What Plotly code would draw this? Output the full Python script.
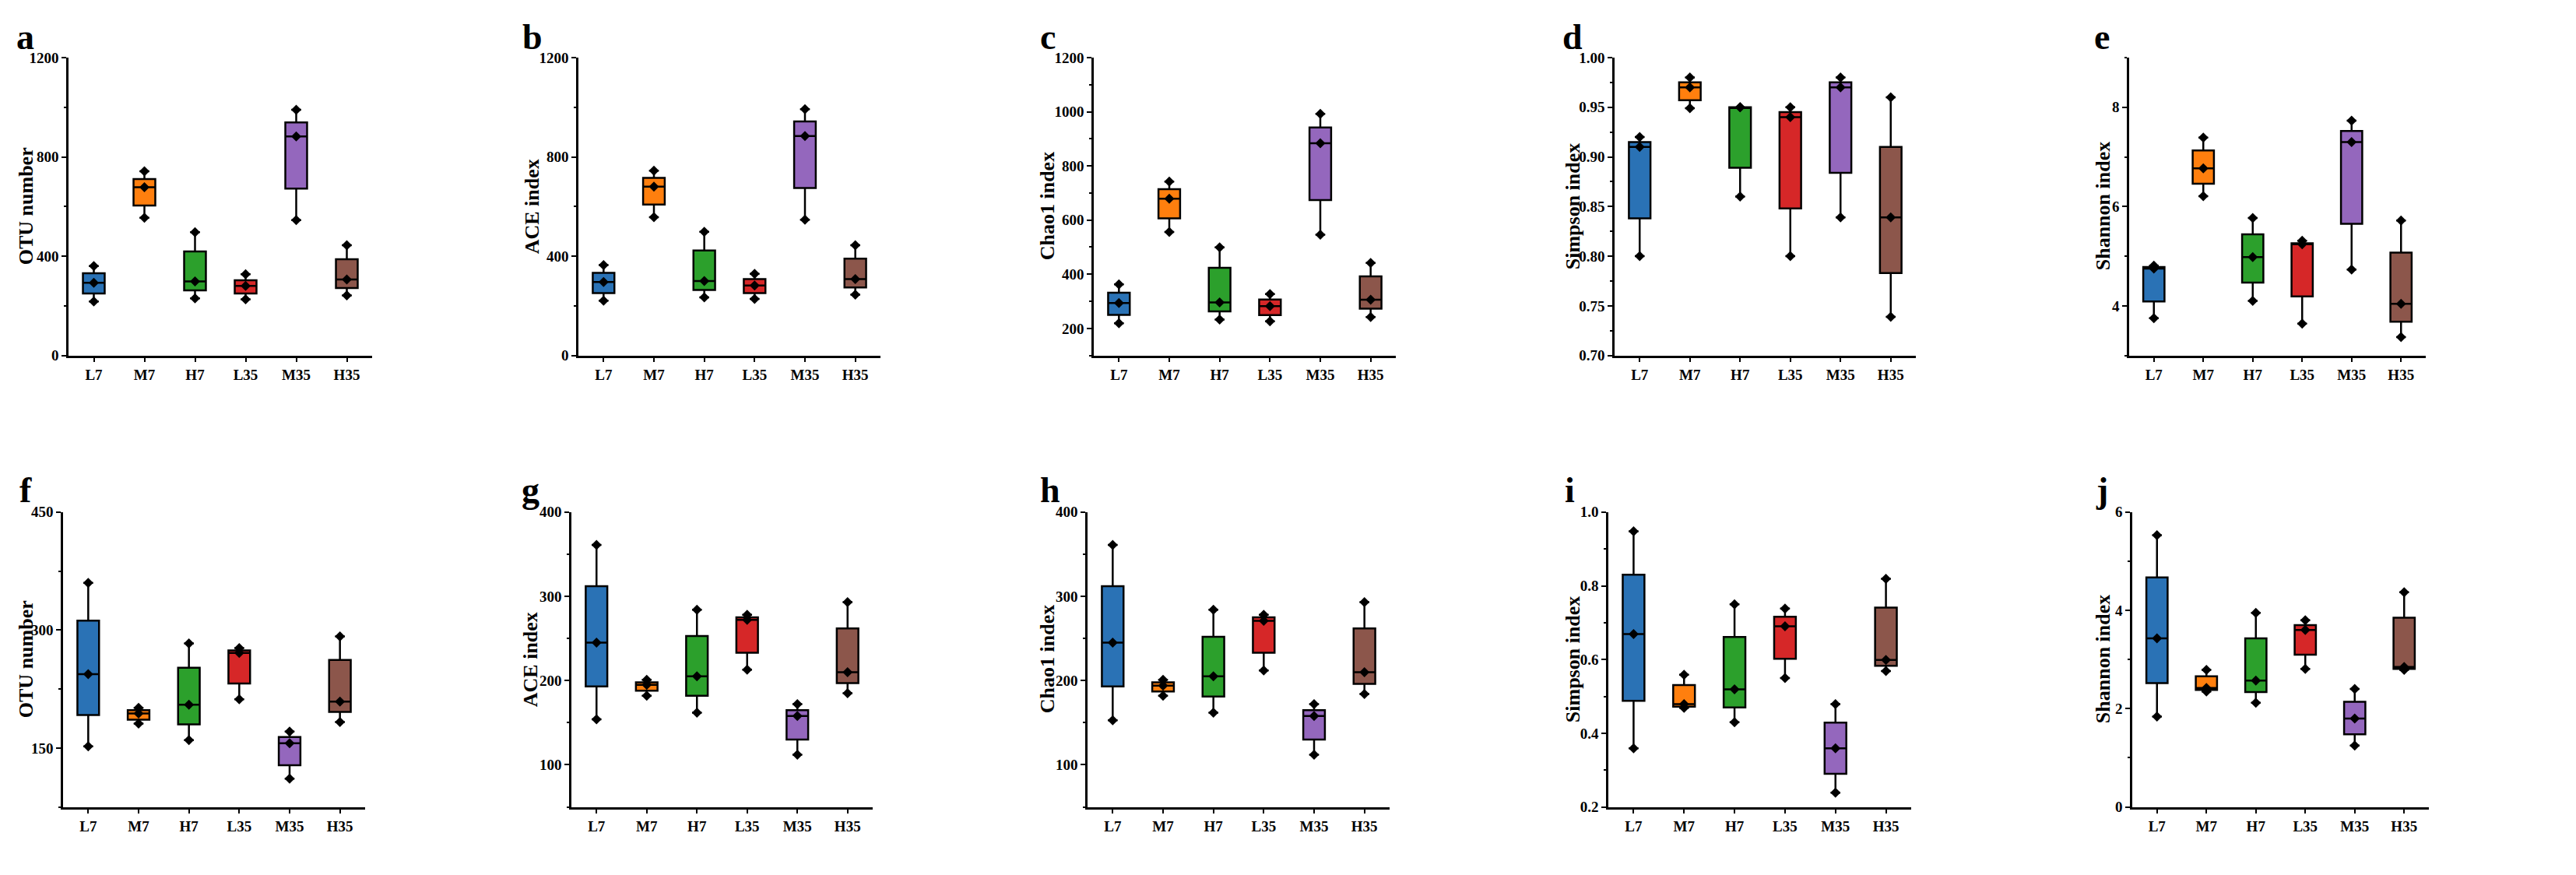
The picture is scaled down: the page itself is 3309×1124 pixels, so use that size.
import plotly.graph_objects as go

W, H = 3309, 1124

GROUPS = ["L7", "M7", "H7", "L35", "M35", "H35"]
COLORS = ["#2a72b5", "#ff7f0e", "#2ca02c", "#d62728", "#9467bd", "#8c564b"]

# ---- data: per panel, min / Q1 / median / Q3 / max for each group ----
A_MIN = [218, 555, 230, 226, 545, 242]
A_Q1  = [250, 604, 262, 250, 672, 272]
A_MED = [293, 678, 298, 280, 882, 306]
A_Q3  = [331, 711, 419, 303, 939, 388]
A_MAX = [360, 742, 497, 327, 990, 444]

B_MIN = [221, 557, 234, 228, 547, 245]
B_Q1  = [251, 608, 264, 251, 675, 274]
B_MED = [296, 680, 300, 282, 884, 308]
B_Q3  = [333, 715, 423, 308, 943, 390]
B_MAX = [364, 744, 498, 329, 992, 444]

C_MIN = [219, 556, 233, 226, 546, 242]
C_Q1  = [250, 606, 263, 249, 674, 273]
C_MED = [294, 679, 296, 282, 884, 306]
C_Q3  = [332, 714, 424, 307, 942, 392]
C_MAX = [363, 742, 499, 327, 992, 442]

D_MIN = [0.800, 0.949, 0.860, 0.800, 0.839, 0.739]
D_Q1  = [0.838, 0.957, 0.889, 0.848, 0.884, 0.783]
D_MED = [0.910, 0.970, 0.950, 0.940, 0.970, 0.839]
D_Q3  = [0.915, 0.975, 0.950, 0.945, 0.975, 0.910]
D_MAX = [0.920, 0.980, 0.950, 0.950, 0.980, 0.960]

E_MIN = [3.75, 6.21, 4.10, 3.64, 4.73, 3.37]
E_Q1  = [4.09, 6.46, 4.47, 4.19, 5.65, 3.68]
E_MED = [4.75, 6.77, 4.98, 5.24, 7.30, 4.04]
E_Q3  = [4.78, 7.13, 5.44, 5.26, 7.52, 5.07]
E_MAX = [4.81, 7.39, 5.77, 5.31, 7.73, 5.72]

F_MIN = [152, 181, 160, 212, 111, 183]
F_Q1  = [192, 186, 180, 232, 128, 196]
F_MED = [244, 194, 205, 271, 156, 209]
F_Q3  = [312, 198, 252, 274, 164, 262]
F_MAX = [360, 201, 283, 277, 171, 292]

G_MIN = [154, 182, 162, 213, 112, 185]
G_Q1  = [193, 188, 182, 233, 130, 197]
G_MED = [245, 195, 205, 272, 158, 210]
G_Q3  = [312, 198, 253, 275, 165, 262]
G_MAX = [361, 201, 284, 278, 172, 293]

H_MIN = [153, 182, 162, 212, 112, 184]
H_Q1  = [193, 187, 181, 233, 130, 196]
H_MED = [245, 194, 205, 271, 158, 210]
H_Q3  = [312, 198, 252, 275, 165, 262]
H_MAX = [361, 201, 284, 278, 172, 293]

I_MIN = [0.359, 0.469, 0.430, 0.550, 0.239, 0.569]
I_Q1  = [0.488, 0.472, 0.470, 0.602, 0.290, 0.583]
I_MED = [0.669, 0.479, 0.519, 0.690, 0.359, 0.599]
I_Q3  = [0.830, 0.531, 0.661, 0.716, 0.429, 0.741]
I_MAX = [0.948, 0.559, 0.750, 0.738, 0.479, 0.819]

J_MIN = [1.84, 2.35, 2.12, 2.81, 1.25, 2.79]
J_Q1  = [2.52, 2.38, 2.34, 3.10, 1.48, 2.81]
J_MED = [3.43, 2.42, 2.57, 3.60, 1.80, 2.85]
J_Q3  = [4.67, 2.66, 3.43, 3.70, 2.14, 3.85]
J_MAX = [5.53, 2.79, 3.95, 3.80, 2.40, 4.37]

PANEL_LETTERS = ["a", "b", "c", "d", "e", "f", "g", "h", "i", "j"]
Y_TITLES = ["OTU number", "ACE index", "Chao1 index", "Simpson index", "Shannon index",
            "OTU number", "ACE index", "Chao1 index", "Simpson index", "Shannon index"]
Y_RANGES = [[0, 1200], [0, 1200], [100, 1200], [0.70, 1.00], [3, 9],
            [75, 450], [50, 400], [50, 400], [0.2, 1.0], [0, 6]]
Y_TICKS = [[0, 400, 800, 1200], [0, 400, 800, 1200], [200, 400, 600, 800, 1000, 1200],
           [0.70, 0.75, 0.80, 0.85, 0.90, 0.95, 1.00], [4, 6, 8],
           [150, 300, 450], [100, 200, 300, 400], [100, 200, 300, 400],
           [0.2, 0.4, 0.6, 0.8, 1.0], [0, 2, 4, 6]]
Y_MINOR = [200, 200, 100, 0.025, 1, 75, 50, 50, 0.1, 1]
Y_FMT = ["d", "d", "d", ".2f", "d", "d", "d", "d", ".1f", "d"]

DATA = [
    (A_MIN, A_Q1, A_MED, A_Q3, A_MAX), (B_MIN, B_Q1, B_MED, B_Q3, B_MAX),
    (C_MIN, C_Q1, C_MED, C_Q3, C_MAX), (D_MIN, D_Q1, D_MED, D_Q3, D_MAX),
    (E_MIN, E_Q1, E_MED, E_Q3, E_MAX), (F_MIN, F_Q1, F_MED, F_Q3, F_MAX),
    (G_MIN, G_Q1, G_MED, G_Q3, G_MAX), (H_MIN, H_Q1, H_MED, H_Q3, H_MAX),
    (I_MIN, I_Q1, I_MED, I_Q3, I_MAX), (J_MIN, J_Q1, J_MED, J_Q3, J_MAX),
]

# ---- layout geometry (pixels) ----
X_SPANS = [(80, 470), (735, 1123), (1397, 1785), (2066, 2453), (2727, 3108),
           (73, 461), (726, 1113), (1389, 1777), (2058, 2447), (2731, 3112)]
ROW_SPANS = [(57, 447), (652, 1038)]
LETTER_X = [24, 676, 1338, 2012, 2692, 25, 673, 1341, 2008, 2692]
TITLE_X = [25, 675, 1337, 2012, 2693, 25, 673, 1337, 2012, 2693]
LETTER_BASE = [47, 640]

FONT = "Liberation Serif"

fig = go.Figure()
layout = dict(
    width=W, height=H, margin=dict(l=0, r=0, t=0, b=0),
    paper_bgcolor="white", plot_bgcolor="white", showlegend=False,
    annotations=[],
)

for p in range(10):
    sfx = "" if p == 0 else str(p + 1)
    xa, ya = "x" + sfx, "y" + sfx
    lo, q1, med, q3, hi = DATA[p]
    for g in range(6):
        fig.add_trace(go.Box(
            x=[GROUPS[g]], q1=[q1[g]], median=[med[g]], q3=[q3[g]],
            lowerfence=[lo[g]], upperfence=[hi[g]],
            fillcolor=COLORS[g], line=dict(color="black", width=2.5),
            width=0.43, whiskerwidth=0.45, boxpoints=False,
            xaxis=xa, yaxis=ya, hoverinfo="skip",
        ))
        fig.add_trace(go.Scatter(
            x=[GROUPS[g]] * 3, y=[lo[g], med[g], hi[g]], mode="markers",
            marker=dict(symbol="diamond", size=10, color="black"),
            xaxis=xa, yaxis=ya, hoverinfo="skip",
        ))
    row = p // 5
    top, bot = ROW_SPANS[row]
    x0, x1 = X_SPANS[p]
    axis_common = dict(
        showline=True, linecolor="black", linewidth=2.5, showgrid=False, zeroline=False,
        ticks="outside", ticklen=6, tickwidth=2, tickcolor="black",
        tickfont=dict(family=FONT, size=19, color="black", weight="bold"),
    )
    layout["xaxis" + sfx] = dict(
        axis_common, domain=[x0 / W, x1 / W], anchor=ya, type="category",
        categoryorder="array", categoryarray=GROUPS, range=[-0.5, 5.5],
    )
    layout["yaxis" + sfx] = dict(
        axis_common, domain=[1 - bot / H, 1 - top / H], anchor=xa,
        range=Y_RANGES[p], tickvals=Y_TICKS[p], tickformat=Y_FMT[p],
        minor=dict(ticks="outside", ticklen=3, tickwidth=1.5, tickcolor="black",
                   dtick=Y_MINOR[p], tick0=Y_RANGES[p][0]),
    )
    layout["annotations"].append(dict(
        text=PANEL_LETTERS[p], xref="paper", yref="paper",
        x=LETTER_X[p] / W, y=1 - (LETTER_BASE[row] + 11) / H,
        xanchor="center", yanchor="bottom", showarrow=False,
        font=dict(family=FONT, size=46, color="black", weight="bold"),
    ))
    layout["annotations"].append(dict(
        text=Y_TITLES[p], xref="paper", yref="paper",
        x=TITLE_X[p] / W, y=1 - ((top + bot) / 2) / H,
        xanchor="center", yanchor="middle", textangle=-90, showarrow=False,
        font=dict(family=FONT, size=26, color="black", weight="bold"),
    ))

fig.update_layout(**layout)
fig.write_html("out.html")
